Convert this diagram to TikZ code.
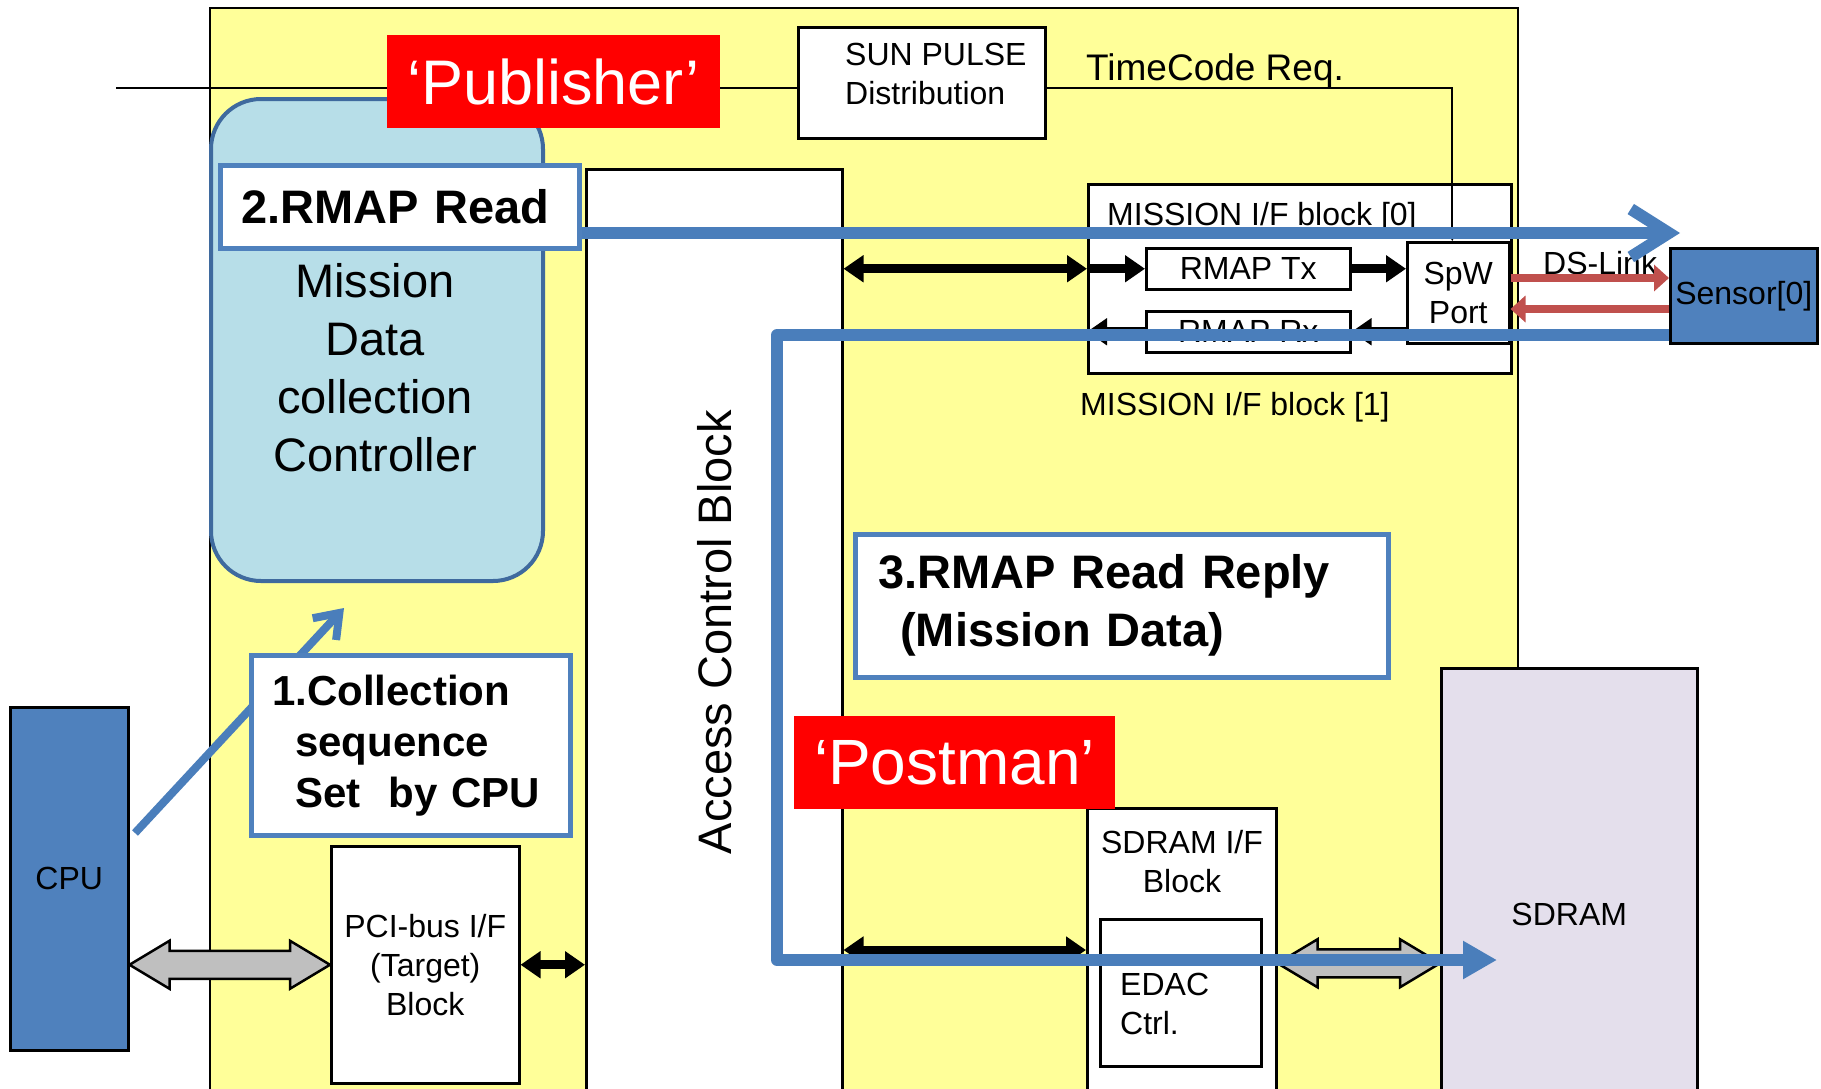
\documentclass[tikz,border=0pt]{standalone}
\usepackage{fontspec}
\setmainfont{Liberation Sans}
\usetikzlibrary{arrows.meta,calc,positioning}

\definecolor{fpgayellow}{HTML}{FFFF99}
\definecolor{mdcblue}{HTML}{B7DEE8}
\definecolor{mdcline}{HTML}{3F6A9E}
\definecolor{unitblue}{HTML}{4F81BD}
\definecolor{noteblue}{HTML}{4F81BD}
\definecolor{flowblue}{HTML}{4A7EBB}
\definecolor{tagred}{HTML}{FF0000}
\definecolor{dsred}{HTML}{C0504D}
\definecolor{busgray}{HTML}{BFBFBF}
\definecolor{memlilac}{HTML}{E4DFEC}

\newcommand\fsmall{\fontsize{32}{39}\selectfont}
\newcommand\fmid{\fontsize{37}{44}\selectfont}
\newcommand\fbig{\fontsize{47}{58}\selectfont}
\newcommand\fnote{\fontsize{47}{58}\selectfont\bfseries}
\newcommand\fnotesm{\fontsize{42}{51}\selectfont\bfseries}

\tikzset{
  box/.style={draw, line width=2.5pt, fill=white, inner sep=2pt, font=\fsmall, align=center},
  wh/.style 2 args={minimum width=#1pt, minimum height=#2pt},
  note/.style={draw=noteblue, line width=4.5pt, fill=white, inner ysep=2pt, align=left},
  tag/.style={fill=tagred, text=white, inner sep=0pt},
  txt/.style={font=\fsmall, inner sep=0pt},
  wire/.style={line width=2pt},
  bus/.style={line width=9pt, >={Triangle[length=20pt,width=26pt]}},
  ds/.style={draw=dsred, line width=8pt, -{Triangle[length=15pt,width=26pt]}},
  flow/.style={draw=flowblue, line width=12pt, line join=round},
  fatarr/.style={draw, line width=2.5pt, fill=busgray, line join=miter},
}

% wide outlined double arrow between two points at the same height
\newcommand\fatarrow[2]{%
  \draw[fatarr] (#1) -- ++(40,-24) -- ++(0,10) -- ($(#2)+(-40,-14)$) -- ++(0,-10)
    -- (#2) -- ++(-40,24) -- ++(0,-10) -- ($(#1)+(40,14)$) -- ++(0,10) -- cycle;}

\begin{document}
\begin{tikzpicture}[x=1pt,y=-1pt]
\useasboundingbox (0,0) rectangle (1821,1088);

% FPGA area
\draw[line width=2.5pt, fill=fpgayellow] (210,8) rectangle (1518,1130);

% blocks
\node[box, anchor=north west, wh={332}{482}, draw=mdcline, line width=4pt, fill=mdcblue, rounded corners=50pt] (mdc) at (209,97) {};
\node[box, anchor=north west, wh={247}{111}] (sun) at (797,26) {};
\node[box, anchor=north west, wh={256}{926}] (acb) at (585,168) {};
\node[box, anchor=north west, wh={423}{189}] (mif) at (1087,183) {};
\node[box, anchor=north west, wh={204}{41}] (tx) at (1145,247) {RMAP Tx};
\node[box, anchor=north west, wh={204}{41}] (rx) at (1145,310) {RMAP Rx};
\node[box, anchor=north west, wh={102}{101}] (spw) at (1406,241) {SpW\\Port};
\node[box, anchor=north west, wh={147}{95}, fill=unitblue] (sensor) at (1669,247) {Sensor[0]};
\node[box, anchor=north west, wh={118}{343}, fill=unitblue] (cpu) at (9,706) {CPU};
\node[box, anchor=north west, wh={188}{237}] (pci) at (330,845) {PCI-bus I/F\\(Target)\\Block};
\node[box, anchor=north west, wh={189}{310}] (sdramif) at (1086,807) {};
\node[box, anchor=north west, wh={161}{147}] (edac) at (1099,918) {};
\node[box, anchor=north west, wh={256}{492}, fill=memlilac] (sdram) at (1440,667) {SDRAM};

% labels
\node[font=\fbig, align=center] (mdctext) at (375,368) {Mission\\Data\\collection\\Controller};
\node[font=\fbig, rotate=90] (acbtext) at (acb.center) {Access Control Block};
\node[txt, align=left, anchor=west] (suntext) at (845,74) {SUN PULSE\\Distribution};
\node[txt, font=\fmid, anchor=base west] (tcreq) at (1086,80) {TimeCode Req.};
\node[txt, anchor=base west] (mif0) at (1107,225) {MISSION I/F block [0]};
\node[txt, anchor=base west] (mif1) at (1080,415) {MISSION I/F block [1]};
\node[txt, anchor=base west] (dslink) at (1543,274) {DS-Link};
\node[txt, align=center] (sdramiftext) at (1182,862) {SDRAM I/F\\Block};
\node[txt, align=left, anchor=west] (edactext) at (1120,1004) {EDAC\\Ctrl.};

% time code request
\coordinate (pps) at (116,88);
\draw[wire] (pps) -- (pps -| sun.west);
\draw[wire, -{Triangle[length=8pt,width=9pt]}] (pps -| sun.east) -| ([xshift=-6pt]spw.north);

% internal buses
\draw[bus,<->] (acb.east |- tx.west) -- (mif.west |- tx.west);
\draw[bus,->] (mif.west |- tx.west) -- (tx.west);
\draw[bus,->] (tx.east) -- (spw.west |- tx.east);
\draw[bus,->] (spw.west |- rx.east) -- (rx.east);
\draw[bus,->] (rx.west) -- (mif.west |- rx.west);
\draw[bus,<->] (pci.east) -- (acb.west |- pci.east);
\coordinate (membus) at (960,950);
\draw[bus,<->] (acb.east |- membus) -- (sdramif.west |- membus);

% external buses
\fatarrow{cpu.east |- pci.west}{pci.west}
\fatarrow{sdramif.east}{sdram.west |- sdramif.east}
\coordinate (dsout) at (1600,278);
\coordinate (dsin) at (1600,309);
\draw[ds] (spw.east |- dsout) -- (sensor.west |- dsout);
\draw[ds] (sensor.west |- dsin) -- (spw.east |- dsin);

% steps
\node[note, anchor=north west, wh={359}{83}, text width=317pt, inner xsep=21pt, font=\fnote] (rd) at (218,163) {2.RMAP Read};

% data flow
\coordinate (rtn) at (777,335);
\coordinate (rtnlow) at (777,960);
\coordinate (memin) at (1497,960);
\draw[flow, -{Triangle[length=34pt,width=36pt]}] (sensor.west |- rtn) -- (rtn) -- (rtnlow) -- (memin);
\coordinate (req) at (1680,233);
\draw[flow, -{Straight Barb[length=38pt,width=48pt]}] (rd.east |- req) -- (req);
\coordinate (cpuout) at (135,833);
\coordinate (mdcin) at (344,608);
\draw[flow, line width=8pt, -{Straight Barb[length=22pt,width=32pt]}] (cpuout) -- (mdcin);

\node[note, anchor=north west, wh={319}{180}, text width=277pt, inner xsep=21pt, font=\fnotesm] (cs) at (249,653)
  {1.Collection\\\hspace*{23pt}sequence\\\hspace*{23pt}Set\ \ by CPU};
\node[note, anchor=north west, wh={533}{143}, text width=487pt, inner xsep=23pt, font=\fnote] (rr) at (853,532)
  {3.RMAP Read Reply\\\hspace*{22pt}(Mission Data)};

% roles
\node[tag, wh={333}{93}, font=\fontsize{63}{70}\selectfont] (pub) at (553.5,81.5) {‘Publisher’};
\node[tag, wh={321}{93}, font=\fontsize{64}{72}\selectfont] (post) at (954.5,762.5) {‘Postman’};
\end{tikzpicture}
\end{document}
